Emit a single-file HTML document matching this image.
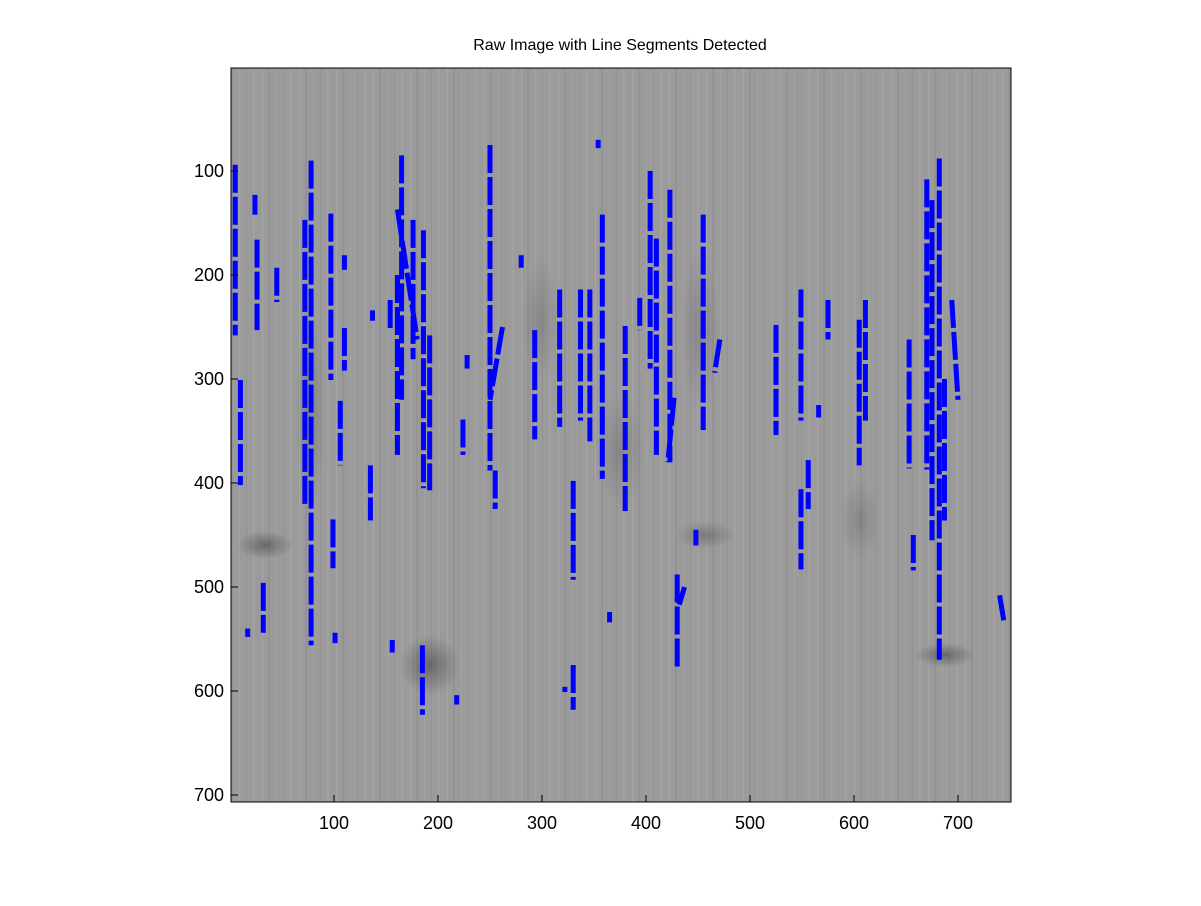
<!DOCTYPE html>
<html><head><meta charset="utf-8"><style>
body{margin:0;background:#fff;font-family:"Liberation Sans",sans-serif}
</style></head><body>
<svg width="1201" height="901" xmlns="http://www.w3.org/2000/svg">
<defs>
<pattern id="stripes" width="37" height="10" patternUnits="userSpaceOnUse">
<rect width="37" height="10" fill="#9b9b9b"/>
<rect x="3" width="1" height="10" fill="#a6a6a6"/>
<rect x="9" width="2" height="10" fill="#939393"/>
<rect x="17" width="1" height="10" fill="#a3a3a3"/>
<rect x="24" width="1" height="10" fill="#929292"/>
<rect x="31" width="2" height="10" fill="#a1a1a1"/>
</pattern>
<radialGradient id="blob"><stop offset="0" stop-color="#333" stop-opacity="0.8"/><stop offset="1" stop-color="#333" stop-opacity="0"/></radialGradient>
</defs>
<text x="620" y="50" text-anchor="middle" font-size="16">Raw Image with Line Segments Detected</text>
<rect x="231" y="68" width="780" height="734" fill="url(#stripes)"/>
<g id="blobs"></g>
<g id="segs"></g>
<rect x="231" y="68" width="780" height="734" fill="none" stroke="#000" stroke-width="1"/>
<g id="ticks"></g>
</svg>
<script>
const xTicks=[100,200,300,400,500,600,700];
const yTicks=[100,200,300,400,500,600,700];
const segX1=[5,10,17,24,26,32,45,72,78,97,106,99,101,110,110,135,137,154,156,161,165,161,176,186,192,185,218,224,228,250,262,255,280,293,317,330,322,330,337,346,358,354,365,380,394,404,410,423,427,430,437,448,455,471,525,549,549,556,566,575,605,611,653,657,670,675,682,687,694,740];
const segY1=[94,301,540,123,166,496,193,147,90,141,321,435,544,181,251,383,234,224,551,200,85,137,147,157,258,556,604,339,277,75,250,388,181,253,214,398,596,575,214,214,142,70,524,249,222,100,165,118,318,488,500,445,142,262,248,214,406,378,325,224,243,224,262,450,108,128,88,300,224,508];
const segX2=[5,10,17,24,26,32,45,72,78,97,106,99,101,110,110,135,137,154,156,161,165,180,176,186,192,185,218,224,228,250,250,255,280,293,317,330,322,330,337,346,358,354,365,380,394,404,410,423,421,430,432,448,455,466,525,549,549,556,566,575,605,611,653,657,670,675,682,687,700,744];
const segY2=[258,402,548,142,253,544,226,421,556,301,383,482,554,195,292,436,244,253,563,373,320,262,281,405,407,623,613,373,290,388,320,425,193,358,346,493,601,618,340,360,396,78,534,427,253,290,373,380,380,580,517,460,349,294,354,340,483,425,337,262,383,340,386,484,387,455,570,436,320,532];
const X=v=>230+v*1.04, Y=v=>67+v*1.04;
const NS="http://www.w3.org/2000/svg";
const bl=document.getElementById('blobs');
[[265,545,28,14,0.6],[430,665,30,30,0.6],[705,535,30,14,0.4],[945,655,30,12,0.6],[540,320,18,60,0.25],[620,450,25,60,0.25],[700,330,20,80,0.25],[310,410,15,100,0.3],[860,520,20,40,0.25]].forEach(b=>{
const e=document.createElementNS(NS,'ellipse');
e.setAttribute('cx',b[0]);e.setAttribute('cy',b[1]);e.setAttribute('rx',b[2]);e.setAttribute('ry',b[3]);e.setAttribute('fill','url(#blob)');e.setAttribute('opacity',b[4]);


bl.appendChild(e);});
const sg=document.getElementById('segs');
for(let i=0;i<segX1.length;i++){
const l=document.createElementNS(NS,'line');
l.setAttribute('x1',X(segX1[i]));l.setAttribute('y1',Y(segY1[i]));l.setAttribute('x2',X(segX2[i]));l.setAttribute('y2',Y(segY2[i]));
l.setAttribute('stroke','#0000ff');l.setAttribute('stroke-width','5');l.setAttribute('stroke-dasharray','28 4');


sg.appendChild(l);}
const tk=document.getElementById('ticks');
xTicks.forEach(v=>{
const l=document.createElementNS(NS,'line');l.setAttribute('x1',X(v));l.setAttribute('x2',X(v));l.setAttribute('y1',802);l.setAttribute('y2',795);l.setAttribute('stroke','#000');


tk.appendChild(l);
const t=document.createElementNS(NS,'text');t.setAttribute('x',X(v));t.setAttribute('y',829);t.setAttribute('text-anchor','middle');t.setAttribute('font-size','18');t.textContent=v;


tk.appendChild(t);});
yTicks.forEach(v=>{
const l=document.createElementNS(NS,'line');l.setAttribute('x1',231);l.setAttribute('x2',238);l.setAttribute('y1',Y(v));l.setAttribute('y2',Y(v));l.setAttribute('stroke','#000');


tk.appendChild(l);
const t=document.createElementNS(NS,'text');t.setAttribute('x',224);t.setAttribute('y',Y(v)+6);t.setAttribute('text-anchor','end');t.setAttribute('font-size','18');t.textContent=v;


tk.appendChild(t);});
</script>
</body></html>
